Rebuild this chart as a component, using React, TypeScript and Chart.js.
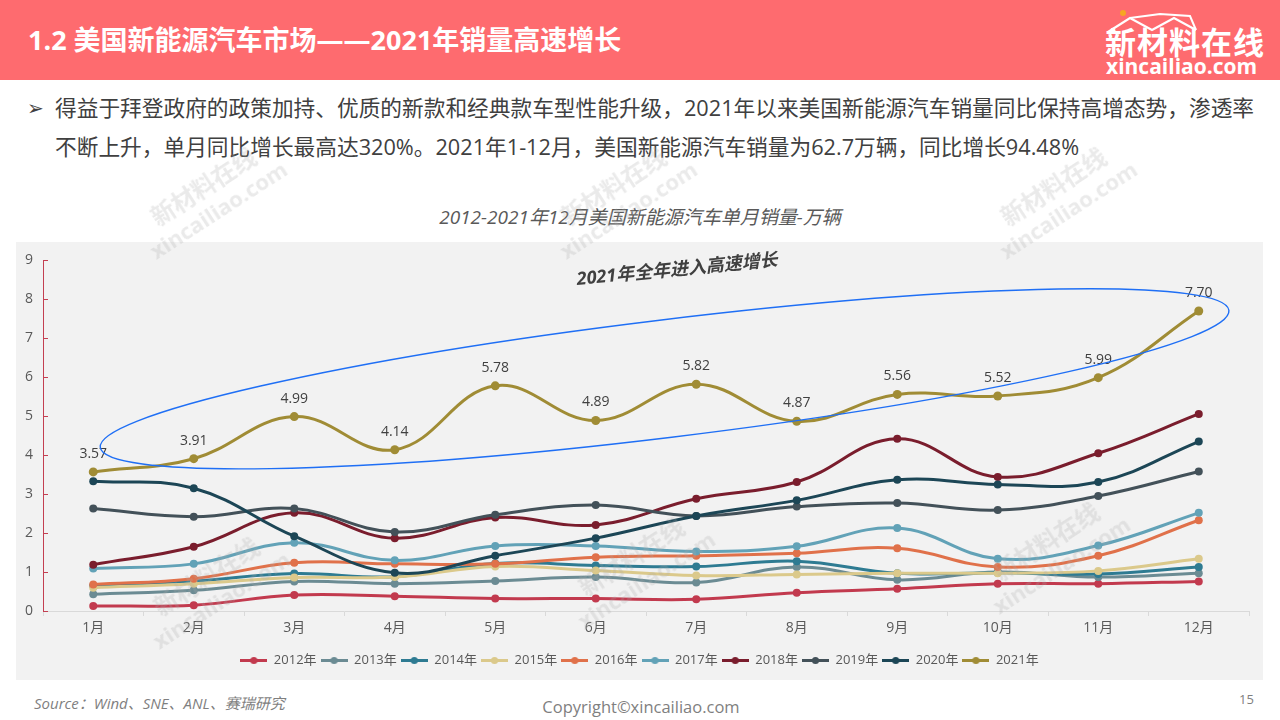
import React, { useEffect, useRef } from 'react';
import { Chart, registerables } from 'chart.js';

Chart.register(...registerables);

const FONT = "'Open Sans', 'Noto Sans CJK SC', sans-serif";

const MONTHS = ['1月', '2月', '3月', '4月', '5月', '6月', '7月', '8月', '9月', '10月', '11月', '12月'];
const YEARS = ['2012年', '2013年', '2014年', '2015年', '2016年', '2017年', '2018年', '2019年', '2020年', '2021年'];

const S2012 = [0.13, 0.15, 0.41, 0.38, 0.32, 0.32, 0.30, 0.47, 0.57, 0.70, 0.70, 0.76];
const S2013 = [0.43, 0.53, 0.76, 0.70, 0.77, 0.87, 0.73, 1.13, 0.80, 1.00, 0.87, 0.97];
const S2014 = [0.65, 0.77, 0.96, 0.88, 1.22, 1.17, 1.14, 1.28, 0.97, 0.98, 0.95, 1.13];
const S2015 = [0.60, 0.70, 0.86, 0.87, 1.14, 1.04, 0.91, 0.94, 0.97, 0.97, 1.03, 1.34];
const S2016 = [0.68, 0.83, 1.24, 1.21, 1.21, 1.38, 1.42, 1.48, 1.61, 1.13, 1.42, 2.33];
const S2017 = [1.09, 1.21, 1.75, 1.30, 1.67, 1.67, 1.53, 1.66, 2.13, 1.34, 1.68, 2.52];
const S2018 = [1.19, 1.65, 2.52, 1.87, 2.40, 2.21, 2.88, 3.31, 4.42, 3.44, 4.05, 5.06];
const S2019 = [2.63, 2.42, 2.63, 2.03, 2.47, 2.72, 2.44, 2.68, 2.77, 2.59, 2.95, 3.58];
const S2020 = [3.33, 3.15, 1.92, 0.98, 1.42, 1.87, 2.44, 2.84, 3.37, 3.25, 3.31, 4.35];
const S2021 = [3.57, 3.91, 4.99, 4.14, 5.78, 4.89, 5.82, 4.87, 5.56, 5.52, 5.99, 7.70];

const SERIES = [S2012, S2013, S2014, S2015, S2016, S2017, S2018, S2019, S2020, S2021];
const COLORS = ['#c23a4e', '#6b8b93', '#2e7b92', '#dbc98b', '#e0714a', '#62a2b7', '#7a1d2d', '#435159', '#1c4656', '#a08c35'];

const Y_TICKS = [0, 1, 2, 3, 4, 5, 6, 7, 8, 9];

// annotation (in data units: category index, value)
const ELLIPSE_LEFT = [0.07, 4.2];
const ELLIPSE_RIGHT = [11.3, 7.72];
const ELLIPSE_MINOR = 1.51;
const NOTE_TEXT = '2021年全年进入高速增长';
const NOTE_POS = [5.81, 8.75];
const NOTE_ANGLE = -5.5;

const AXIS_RED = '#c33f51';

const overlayPlugin = {
  id: 'overlay',
  afterDatasetsDraw(chart: any) {
    const { ctx, chartArea } = chart;
    const x = chart.scales.x;
    const y = chart.scales.y;
    ctx.save();
    // inner tick marks on y axis
    ctx.strokeStyle = AXIS_RED;
    ctx.lineWidth = 1;
    for (const t of Y_TICKS) {
      const py = Math.round(y.getPixelForValue(t)) + 0.5;
      ctx.beginPath();
      ctx.moveTo(chartArea.left, py);
      ctx.lineTo(chartArea.left + 5, py);
      ctx.stroke();
    }
    // data labels for 2021
    const idx = SERIES.length - 1;
    const meta = chart.getDatasetMeta(idx);
    ctx.fillStyle = '#404040';
    ctx.font = `14px ${FONT}`;
    ctx.textAlign = 'center';
    ctx.textBaseline = 'middle';
    meta.data.forEach((pt: any, i: number) => {
      ctx.fillText(SERIES[idx][i].toFixed(2), pt.x, pt.y - 18);
    });
    // ellipse
    const x1 = x.getPixelForValue(ELLIPSE_LEFT[0]);
    const y1 = y.getPixelForValue(ELLIPSE_LEFT[1]);
    const x2 = x.getPixelForValue(ELLIPSE_RIGHT[0]);
    const y2 = y.getPixelForValue(ELLIPSE_RIGHT[1]);
    const cx = (x1 + x2) / 2;
    const cy = (y1 + y2) / 2;
    const a = Math.hypot(x2 - x1, y2 - y1) / 2;
    const ang = Math.atan2(y2 - y1, x2 - x1);
    const b = ELLIPSE_MINOR * (y.getPixelForValue(0) - y.getPixelForValue(1));
    ctx.strokeStyle = '#1f6ff5';
    ctx.lineWidth = 1.4;
    ctx.beginPath();
    ctx.ellipse(cx, cy, a, b, ang, 0, Math.PI * 2);
    ctx.stroke();
    // note text
    const nx = x.getPixelForValue(NOTE_POS[0]);
    const ny = y.getPixelForValue(NOTE_POS[1]);
    ctx.translate(nx, ny);
    ctx.rotate((NOTE_ANGLE * Math.PI) / 180);
    ctx.font = `italic bold 18px ${FONT}`;
    ctx.fillStyle = '#404040';
    ctx.fillText(NOTE_TEXT, 0, 0);
    ctx.restore();
  },
};

function makeIcon(color: string) {
  const c = document.createElement('canvas');
  c.width = 27;
  c.height = 9;
  const g = c.getContext('2d') as CanvasRenderingContext2D;
  g.strokeStyle = color;
  g.lineWidth = 3;
  g.beginPath();
  g.moveTo(0, 4.5);
  g.lineTo(27, 4.5);
  g.stroke();
  g.fillStyle = color;
  g.beginPath();
  g.arc(13.5, 4.5, 3.6, 0, Math.PI * 2);
  g.fill();
  return c;
}

function ChartPanel() {
  const ref = useRef<HTMLCanvasElement>(null);
  useEffect(() => {
    if (!ref.current) return;
    Chart.defaults.font.family = FONT;
    const icons = COLORS.map(makeIcon);
    const chart = new Chart(ref.current, {
      type: 'line',
      data: {
        labels: MONTHS,
        datasets: SERIES.map((s, i) => ({
          label: YEARS[i],
          data: s,
          yAxisID: 'y',
          borderColor: COLORS[i],
          backgroundColor: COLORS[i],
          pointBackgroundColor: COLORS[i],
          pointBorderWidth: 0,
          pointRadius: i === SERIES.length - 1 ? 4.5 : 4,
          borderWidth: 3,
          tension: 0.4,
          fill: false,
          order: SERIES.length - i,
        })),
      },
      options: {
        animation: false,
        responsive: false,
        maintainAspectRatio: false,
        layout: { padding: { top: 15, right: 0, left: 0, bottom: 3 } },
        plugins: {
          tooltip: { enabled: false },
          legend: {
            position: 'bottom',
            labels: {
              usePointStyle: true,
              pointStyleWidth: 27,
              boxHeight: 9,
              padding: 4,
              color: '#595959',
              font: { size: 13, family: FONT },
              generateLabels: (ch: any) =>
                ch.data.datasets.map((ds: any, i: number) => ({
                  text: ds.label,
                  fillStyle: COLORS[i],
                  strokeStyle: COLORS[i],
                  lineWidth: 0,
                  pointStyle: icons[i],
                  datasetIndex: i,
                  hidden: !ch.isDatasetVisible(i),
                  fontColor: '#595959',
                })),
            },
          },
        },
        scales: {
          x: {
            type: 'category',
            offset: true,
            grid: { offset: true, drawOnChartArea: false, drawTicks: true, tickLength: 5, color: '#d9d9d9' },
            border: { color: '#d9d9d9' },
            ticks: { color: '#595959', font: { size: 14, family: FONT }, padding: 4, maxRotation: 0, autoSkip: false },
            afterFit: (s: any) => {
              s.height = 39;
            },
          },
          y: {
            position: 'left',
            min: 0,
            max: 9,
            grid: { drawOnChartArea: false, drawTicks: false },
            border: { color: AXIS_RED, width: 1 },
            ticks: { stepSize: 1, color: '#595959', font: { size: 14, family: FONT }, padding: 10 },
            afterFit: (s: any) => {
              s.width = 27;
            },
          },
          yRight: {
            position: 'right',
            min: 0,
            max: 9,
            grid: { display: false, drawOnChartArea: false, drawTicks: false },
            border: { display: false },
            ticks: { display: false },
            afterFit: (s: any) => {
              s.width = 14;
            },
          },
        },
      },
      plugins: [overlayPlugin],
    } as any);
    return () => chart.destroy();
  }, []);
  return <canvas ref={ref} width={1247} height={438} style={{ display: 'block', width: 1247, height: 438 }} />;
}

function T(props: { x: number; cy: number; fs: number; children: any; style?: any; center?: boolean }) {
  const { x, cy, fs, children, style, center } = props;
  return (
    <div
      style={{
        position: 'absolute',
        left: center ? x - 600 : x,
        width: center ? 1200 : undefined,
        textAlign: center ? 'center' : 'left',
        top: cy - fs / 2,
        fontSize: fs,
        lineHeight: fs + 'px',
        whiteSpace: 'nowrap',
        ...style,
      }}
    >
      {children}
    </div>
  );
}

const WATERMARKS = [
  [212, 200],
  [622, 200],
  [1062, 200],
  [640, 570],
  [1055, 555],
  [215, 590],
];

export default function App() {
  return (
    <div
      style={{
        position: 'absolute',
        left: 0,
        top: 0,
        width: 1280,
        height: 720,
        overflow: 'hidden',
        background: '#fff',
        fontFamily: FONT,
      }}
    >
      <div style={{ position: 'absolute', left: 0, top: 0, width: 1280, height: 80, background: '#fe6b6f' }} />
      <T x={28} cy={39} fs={27} style={{ color: '#fff', fontWeight: 700 }}>
        1.2 美国新能源汽车市场——2021年销量高速增长
      </T>
      <svg style={{ position: 'absolute', left: 1100, top: 6, width: 180, height: 30 }} viewBox="0 0 180 30">
        <circle cx={23} cy={7} r={3} fill="#f6a623" />
        <polyline points="8,26 30,12 52,24 74,12 96,24" fill="none" stroke="#fff" strokeWidth={2.2} />
        <polyline points="30,12 60,8 90,10 96,24" fill="none" stroke="#fff" strokeWidth={2} />
      </svg>
      <T x={1105} cy={42} fs={31} style={{ color: '#fff', fontWeight: 700, letterSpacing: 1 }}>
        新材料在线
      </T>
      <T x={1106} cy={66} fs={21} style={{ color: '#fff', fontWeight: 700 }}>
        xincailiao.com
      </T>

      <T x={27} cy={108} fs={20} style={{ color: '#404040' }}>
        ➢
      </T>
      <T x={55} cy={108} fs={21.7} style={{ color: '#404040' }}>
        得益于拜登政府的政策加持、优质的新款和经典款车型性能升级，2021年以来美国新能源汽车销量同比保持高增态势，渗透率
      </T>
      <T x={55} cy={147} fs={21.7} style={{ color: '#404040' }}>
        不断上升，单月同比增长最高达320%。2021年1-12月，美国新能源汽车销量为62.7万辆，同比增长94.48%
      </T>

      <T x={640} cy={217} fs={19} center style={{ color: '#595959', fontStyle: 'italic' }}>
        2012-2021年12月美国新能源汽车单月销量-万辆
      </T>

      <div style={{ position: 'absolute', left: 16, top: 242, width: 1247, height: 438, background: '#f2f2f2' }}>
        <ChartPanel />
      </div>

      {WATERMARKS.map(([wx, wy], i) => (
        <div
          key={i}
          style={{
            position: 'absolute',
            left: wx - 80,
            top: wy - 30,
            width: 160,
            height: 60,
            transform: 'rotate(-33deg)',
            textAlign: 'center',
            color: 'rgba(170,170,170,0.25)',
            pointerEvents: 'none',
          }}
        >
          <div style={{ fontSize: 24, fontWeight: 700, lineHeight: '28px' }}>新材料在线</div>
          <div style={{ fontSize: 22, fontWeight: 700, lineHeight: '26px' }}>xincailiao.com</div>
        </div>
      ))}

      <T x={34} cy={703} fs={15} style={{ color: '#7f7f7f', fontStyle: 'italic' }}>
        Source：Wind、SNE、ANL、赛瑞研究
      </T>
      <T x={641} cy={707} fs={16.5} center style={{ color: '#7f7f7f' }}>
        Copyright©xincailiao.com
      </T>
      <T x={1239} cy={699} fs={13} style={{ color: '#7f7f7f' }}>
        15
      </T>
    </div>
  );
}
